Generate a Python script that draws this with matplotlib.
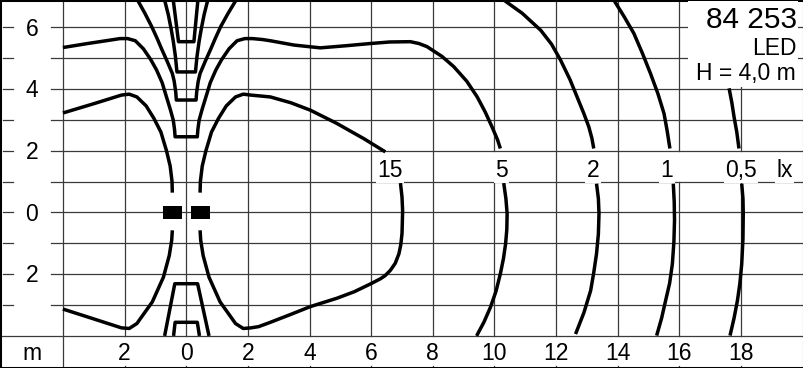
import numpy as np
import matplotlib
matplotlib.use("Agg")
from matplotlib import pyplot as plt
from matplotlib.patches import Rectangle

plt.rcParams['font.family'] = ['Liberation Sans', 'DejaVu Sans']

#%% DATA (m)

# 15 lx
lx15_ul_x = [-4.0, -3.0, -2.1, -1.85, -1.6, -1.3, -1.05, -0.82, -0.64, -0.52, -0.46, -0.45]
lx15_ul_y = [3.22, 3.52, 3.80, 3.83, 3.74, 3.45, 3.05, 2.6, 2.0, 1.5, 1.0, 0.64]
lx15_ur_x = [0.45, 0.46, 0.52, 0.64, 0.82, 1.05, 1.3, 1.6, 1.85, 2.1, 2.73, 3.4, 4.03, 4.89, 5.35, 5.76, 6.15, 6.46]
lx15_ur_y = [0.64, 1.0, 1.5, 2.0, 2.6, 3.05, 3.45, 3.74, 3.83, 3.80, 3.74, 3.55, 3.31, 2.88, 2.62, 2.39, 2.15, 1.96]
lx15_lr_x = [6.95, 7.0, 7.02, 7.01, 7.0, 6.96, 6.9, 6.78, 6.62, 6.45, 6.3, 5.97, 5.45, 4.89, 4.03, 3.4,
             2.73, 2.35, 2.1, 1.85, 1.6, 1.1, 0.74, 0.55, 0.47, 0.45]
lx15_lr_y = [0.95, 0.5, 0.06, -0.35, -0.69, -1.05, -1.34, -1.65, -1.88, -2.05, -2.15, -2.32, -2.57, -2.78, -3.05, -3.3,
             -3.56, -3.7, -3.74, -3.76, -3.6, -2.9, -2.1, -1.4, -0.9, -0.58]
lx15_ll_x = [-0.45, -0.47, -0.55, -0.74, -1.1, -1.6, -1.85, -2.1, -3.0, -4.0]
lx15_ll_y = [-0.58, -0.9, -1.4, -2.1, -2.9, -3.6, -3.76, -3.74, -3.45, -3.13]

# 5 lx
lx5_up_x = [-4.0, -3.2, -2.47, -2.15, -1.9, -1.65, -1.39, -1.15, -0.96, -0.78, -0.64, -0.52, -0.42, -0.38, -0.36,
            0.36, 0.38, 0.42, 0.52, 0.64, 0.78, 0.96, 1.15, 1.39, 1.65, 1.9, 2.15, 2.47,
            2.73, 3.5, 4.35, 5.2, 5.97, 6.6, 7.27, 7.55, 7.81, 8.3, 8.68, 9.1, 9.44, 9.7, 9.92, 10.1, 10.19]
lx5_up_y = [5.34, 5.47, 5.58, 5.63, 5.63, 5.56, 5.3, 4.95, 4.61, 4.2, 3.74, 3.35, 2.99, 2.7, 2.45,
            2.45, 2.7, 2.99, 3.35, 3.74, 4.2, 4.61, 4.95, 5.3, 5.56, 5.63, 5.63, 5.6,
            5.56, 5.42, 5.33, 5.4, 5.47, 5.52, 5.53, 5.47, 5.37, 5.05, 4.72, 4.25, 3.74, 3.25, 2.77, 2.35, 2.07]
lx5_lo_x = [10.3, 10.37, 10.41, 10.4, 10.36, 10.29, 10.19, 10.05, 9.87, 9.66, 9.42]
lx5_lo_y = [0.95, 0.45, -0.04, -0.55, -1.02, -1.5, -1.99, -2.55, -3.07, -3.55, -4.0]
lx5_bot_x = [-0.7, -0.37, 0.37, 0.74]
lx5_bot_y = [-4.0, -2.31, -2.31, -4.0]

# 2 lx
lx2_top_x = [-1.58, -1.34, -1.12, -0.95, -0.8, -0.62, -0.45, -0.39, -0.34, -0.32,
             0.32, 0.34, 0.39, 0.45, 0.62, 0.8, 0.95, 1.12, 1.36, 1.62]
lx2_top_y = [6.88, 6.45, 6.02, 5.65, 5.3, 4.9, 4.5, 4.25, 3.9, 3.64,
             3.64, 3.9, 4.25, 4.5, 4.9, 5.3, 5.65, 6.02, 6.45, 6.88]
lx2_up_x = [10.3, 10.9, 11.5, 11.85, 12.14, 12.45, 12.68, 12.9, 13.06, 13.16, 13.22]
lx2_up_y = [6.88, 6.45, 5.9, 5.45, 4.94, 4.3, 3.74, 3.2, 2.77, 2.4, 2.07]
lx2_lo_x = [13.31, 13.37, 13.39, 13.37, 13.31, 13.22, 13.12, 12.9, 12.63]
lx2_lo_y = [0.93, 0.45, -0.04, -0.7, -1.34, -1.95, -2.53, -3.25, -3.94]
lx2_bot_x = [-0.41, -0.36, 0.36, 0.43]
lx2_bot_y = [-4.0, -3.56, -3.56, -4.0]

# 1 lx
lx1_top_x = [-0.70, -0.58, -0.49, -0.42, -0.35, -0.3, 0.3, 0.35, 0.42, 0.49, 0.58, 0.70]
lx1_top_y = [6.88, 6.4, 5.95, 5.55, 5.05, 4.55, 4.55, 5.05, 5.55, 5.95, 6.4, 6.88]
lx1_up_x = [13.87, 14.2, 14.52, 14.8, 15.06, 15.3, 15.5, 15.6, 15.69]
lx1_up_y = [6.88, 6.35, 5.8, 5.15, 4.5, 3.85, 3.2, 2.65, 2.07]
lx1_lo_x = [15.8, 15.83, 15.84, 15.82, 15.77, 15.68, 15.55, 15.42, 15.26]
lx1_lo_y = [0.93, 0.35, -0.26, -0.95, -1.67, -2.3, -2.86, -3.43, -3.99]

# 0,5 lx
lx05_top_x = [-0.42, -0.25, 0.25, 0.38]
lx05_top_y = [6.88, 5.53, 5.53, 6.88]
lx05_up_x = [17.61, 17.7, 17.77, 17.86, 17.93]
lx05_up_y = [4.02, 3.55, 3.1, 2.6, 2.07]
lx05_lo_x = [18.02, 18.06, 18.07, 18.06, 18.02, 17.96, 17.88, 17.77, 17.64]
lx05_lo_y = [0.93, 0.45, -0.04, -0.85, -1.67, -2.3, -2.86, -3.43, -3.99]

# labels
level_labels = ['15', '5', '2', '1', '0,5', 'lx']
level_label_x = [6.6, 10.23, 13.2, 15.6, 17.99, 19.4]
y_ticks = [6, 4, 2, 0, -2]
y_ticklabels = ['6', '4', '2', '0', '2']
x_ticks = [-2, 0, 2, 4, 6, 8, 10, 12, 14, 16, 18]
x_ticklabels = ['2', '0', '2', '4', '6', '8', '10', '12', '14', '16', '18']
lamp_x = [-0.75, 0.14]

#%% PLOT

fig = plt.figure(figsize=(8.04, 3.68), dpi=100)
ax = fig.add_axes([0, 0, 1, 1])
X0, X1, Y0, Y1 = -6.04, 20.04, -5.04, 6.88
ax.set_xlim(X0, X1)
ax.set_ylim(Y0, Y1)
ax.set_xticks([])
ax.set_yticks([])
for s in ax.spines.values():
    s.set_linewidth(2.2)
    s.set_color('black')

gc = '#3a3a3a'
glw = 0.9
fs = 16.5
# vertical grid
for xv in range(-2, 19, 2):
    if xv in (10, 16, 18):
        ax.plot([xv, xv], [-4, 1], color=gc, lw=glw, zorder=1)
        ax.plot([xv, xv], [2, Y1], color=gc, lw=glw, zorder=1)
    else:
        ax.plot([xv, xv], [-4, Y1], color=gc, lw=glw, zorder=1)
    ax.plot([xv, xv], [Y0, Y0 + 0.08], color=gc, lw=glw, zorder=1)
ax.plot([-4, -4], [Y0, Y1], color=gc, lw=glw, zorder=1)
# horizontal grid
for yh in range(-3, 7):
    ax.plot([-4.38, X1], [yh, yh], color=gc, lw=glw, zorder=1)
    ax.plot([-5.94, -5.62], [yh, yh], color=gc, lw=glw, zorder=1)
ax.plot([X0, X1], [-4, -4], color=gc, lw=glw, zorder=1)

# title box
ax.add_patch(Rectangle((16.28, 4.07), 19.86 - 16.28, 6.84 - 4.07, facecolor='white',
                       edgecolor='none', zorder=3))
ax.text(19.81, 5.97, '84 253', fontsize=21.5, ha='right', va='baseline', zorder=5)
ax.text(19.81, 5.10, 'LED', fontsize=fs, ha='right', va='baseline', zorder=5)
ax.text(19.78, 4.29, 'H = 4,0 m', fontsize=fs, ha='right', va='baseline', zorder=5)

# isolux curves
pieces = [(lx15_ul_x, lx15_ul_y), (lx15_ur_x, lx15_ur_y), (lx15_lr_x, lx15_lr_y), (lx15_ll_x, lx15_ll_y),
          (lx5_up_x, lx5_up_y), (lx5_lo_x, lx5_lo_y), (lx5_bot_x, lx5_bot_y),
          (lx2_top_x, lx2_top_y), (lx2_up_x, lx2_up_y), (lx2_lo_x, lx2_lo_y), (lx2_bot_x, lx2_bot_y),
          (lx1_top_x, lx1_top_y), (lx1_up_x, lx1_up_y), (lx1_lo_x, lx1_lo_y),
          (lx05_top_x, lx05_top_y), (lx05_up_x, lx05_up_y), (lx05_lo_x, lx05_lo_y)]
for px, py in pieces:
    ax.plot(px, py, color='black', lw=2.5, solid_joinstyle='round', solid_capstyle='butt', zorder=4)

# lamps
for lx in lamp_x:
    ax.add_patch(Rectangle((lx, -0.21), 0.62, 0.41, facecolor='black', edgecolor='none', zorder=4))

# labels
for t, xl in zip(level_labels, level_label_x):
    ax.text(xl, 1.16, t, fontsize=fs, ha='center', va='baseline', zorder=5,
            bbox=dict(facecolor='white', edgecolor='none', pad=1))
for t, yl in zip(y_ticklabels, y_ticks):
    ax.text(-5.01, yl - 0.27, t, fontsize=fs, ha='center', va='baseline', zorder=5)
ax.text(-5.01, -4.78, 'm', fontsize=fs, ha='center', va='baseline', zorder=5)
for t, xl in zip(x_ticklabels, x_ticks):
    ax.text(xl, -4.78, t, fontsize=fs, ha='center', va='baseline', zorder=5)

fig.savefig('out.png', dpi=100)
